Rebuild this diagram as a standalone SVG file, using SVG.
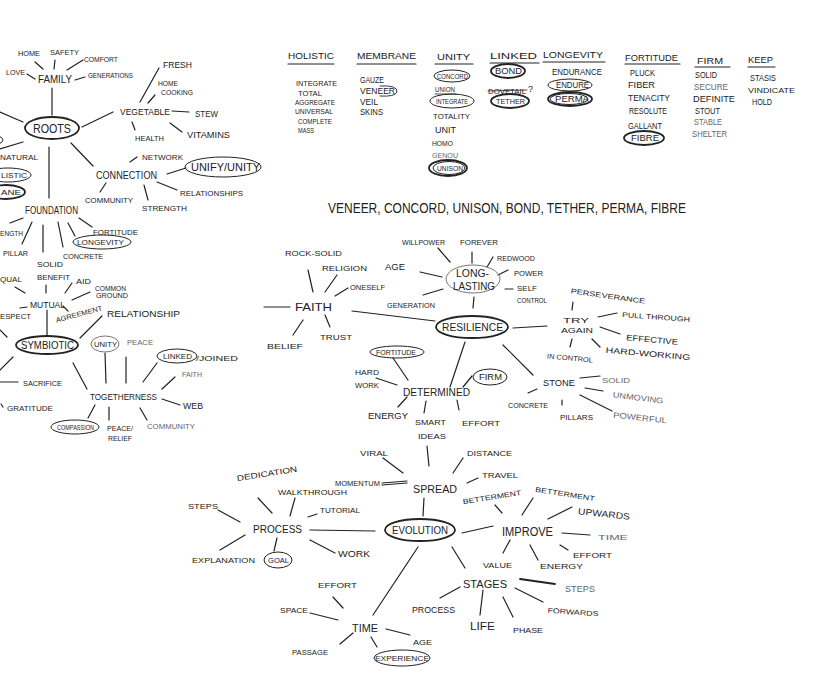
<svg xmlns="http://www.w3.org/2000/svg" width="835" height="698" viewBox="0 0 835 698">
<style>
text{font-family:"Liberation Sans","DejaVu Sans",Arial,sans-serif;fill:#222;dominant-baseline:central;font-size:8.5px;}
.s7{font-size:7px}.s8{font-size:8px}.s9{font-size:9px}.s10{font-size:10px}.s11{font-size:11px}.s12{font-size:12px}.s13{font-size:13px}.s14{font-size:14px}
.g{fill:#666}
.c line,.c path,line.u{stroke:#222;stroke-width:1.2;fill:none;stroke-linecap:round}
ellipse{fill:none;stroke:#222;stroke-width:1}
ellipse.k{stroke-width:1.8}
ellipse.f{stroke:#777}
</style>
<rect width="835" height="698" fill="#fff"/>

<!-- connectors -->
<g class="c" id="connectors">
<!-- left map -->
<line x1="35" y1="62" x2="43" y2="69"/><line x1="55" y1="60" x2="54" y2="69"/><line x1="67" y1="70" x2="83" y2="60"/>
<line x1="27" y1="74" x2="35" y2="79"/><line x1="75" y1="80" x2="85" y2="77"/><line x1="52" y1="88" x2="52" y2="115"/>
<line x1="0" y1="112" x2="23" y2="122"/><line x1="0" y1="149" x2="23" y2="142"/>
<line x1="82" y1="127" x2="113" y2="112"/><line x1="140" y1="102" x2="159" y2="68"/><line x1="148" y1="103" x2="155" y2="95"/>
<line x1="172" y1="111" x2="189" y2="112"/><line x1="170" y1="123" x2="182" y2="132"/><line x1="132" y1="122" x2="135" y2="130"/>
<line x1="71" y1="143" x2="93" y2="166"/><line x1="130" y1="162" x2="137" y2="157"/><line x1="167" y1="174" x2="186" y2="168"/>
<line x1="157" y1="182" x2="177" y2="190"/><line x1="144" y1="185" x2="148" y2="200"/><line x1="100" y1="192" x2="106" y2="183"/>
<line x1="49" y1="147" x2="49" y2="198"/>
<line x1="10" y1="223" x2="23" y2="218"/><line x1="22" y1="244" x2="32" y2="222"/><line x1="43" y1="225" x2="43" y2="252"/>
<line x1="58" y1="222" x2="63" y2="247"/><line x1="68" y1="223" x2="75" y2="236"/><line x1="79" y1="218" x2="92" y2="227"/>
<line x1="46" y1="285" x2="46" y2="293"/><line x1="65" y1="293" x2="72" y2="283"/><line x1="72" y1="300" x2="90" y2="292"/>
<line x1="15" y1="287" x2="25" y2="293"/><line x1="20" y1="308" x2="27" y2="307"/><line x1="63" y1="306" x2="68" y2="311"/>
<line x1="47" y1="310" x2="47" y2="335"/><line x1="80" y1="338" x2="102" y2="316"/>
<line x1="0" y1="330" x2="7" y2="337"/><line x1="0" y1="370" x2="13" y2="357"/><line x1="0" y1="382" x2="18" y2="382"/><line x1="1" y1="404" x2="3" y2="407"/>
<line x1="73" y1="363" x2="87" y2="389"/><line x1="105" y1="353" x2="106" y2="383"/><line x1="126" y1="357" x2="126" y2="383"/>
<line x1="143" y1="382" x2="157" y2="363"/><line x1="162" y1="389" x2="175" y2="377"/><line x1="162" y1="399" x2="180" y2="405"/>
<line x1="140" y1="408" x2="147" y2="420"/><line x1="109" y1="407" x2="109" y2="420"/><line x1="95" y1="405" x2="88" y2="418"/>
<!-- resilience map -->
<line x1="308" y1="270" x2="313" y2="292"/><line x1="337" y1="275" x2="325" y2="292"/><line x1="348" y1="288" x2="335" y2="296"/>
<line x1="264" y1="307" x2="290" y2="307"/><line x1="303" y1="320" x2="293" y2="335"/><line x1="325" y1="315" x2="330" y2="327"/>
<line x1="352" y1="311" x2="435" y2="321"/>
<line x1="438" y1="248" x2="450" y2="262"/><line x1="472" y1="252" x2="472" y2="263"/><line x1="493" y1="257" x2="487" y2="267"/>
<line x1="498" y1="275" x2="508" y2="270"/><line x1="505" y1="289" x2="513" y2="289"/><line x1="420" y1="272" x2="442" y2="277"/>
<line x1="423" y1="295" x2="443" y2="289"/><line x1="474" y1="297" x2="473" y2="308"/>
<line x1="465" y1="342" x2="450" y2="387"/><line x1="503" y1="345" x2="533" y2="375"/><line x1="513" y1="328" x2="547" y2="326"/>
<line x1="393" y1="358" x2="408" y2="380"/><line x1="376" y1="378" x2="397" y2="385"/><line x1="463" y1="387" x2="472" y2="376"/>
<line x1="398" y1="407" x2="407" y2="397"/><line x1="426" y1="401" x2="424" y2="413"/><line x1="457" y1="400" x2="459" y2="410"/>
<line x1="580" y1="378" x2="600" y2="376"/><line x1="585" y1="388" x2="603" y2="391"/><line x1="580" y1="395" x2="612" y2="411"/>
<line x1="528" y1="393" x2="537" y2="389"/><line x1="562" y1="400" x2="562" y2="405"/>
<line x1="573" y1="302" x2="572" y2="310"/><line x1="598" y1="317" x2="617" y2="313"/><line x1="600" y1="327" x2="620" y2="334"/>
<line x1="592" y1="339" x2="600" y2="347"/><line x1="572" y1="339" x2="570" y2="347"/>
<!-- evolution map -->
<line x1="427" y1="446" x2="429" y2="466"/><line x1="383" y1="458" x2="403" y2="473"/>
<line x1="382" y1="483" x2="407" y2="481"/><line x1="382" y1="485" x2="407" y2="483"/>
<line x1="463" y1="458" x2="453" y2="473"/><line x1="467" y1="483" x2="478" y2="478"/><line x1="424" y1="498" x2="423" y2="516"/>
<line x1="495" y1="505" x2="502" y2="513"/><line x1="533" y1="498" x2="522" y2="515"/><line x1="572" y1="507" x2="548" y2="519"/>
<line x1="462" y1="533" x2="493" y2="526"/><line x1="562" y1="533" x2="590" y2="535"/><line x1="560" y1="545" x2="568" y2="550"/>
<line x1="530" y1="545" x2="538" y2="560"/><line x1="510" y1="540" x2="503" y2="553"/>
<line x1="452" y1="547" x2="465" y2="568"/>
<line x1="520" y1="579" x2="555" y2="584" style="stroke-width:1.8"/><line x1="515" y1="588" x2="543" y2="602"/>
<line x1="503" y1="597" x2="513" y2="617"/><line x1="483" y1="590" x2="480" y2="615"/><line x1="440" y1="598" x2="460" y2="587"/>
<line x1="418" y1="547" x2="373" y2="615"/>
<line x1="333" y1="597" x2="343" y2="608"/><line x1="310" y1="613" x2="338" y2="620"/><line x1="386" y1="629" x2="410" y2="635"/>
<line x1="340" y1="644" x2="353" y2="633"/><line x1="371" y1="637" x2="377" y2="647"/>
<line x1="310" y1="530" x2="375" y2="531"/>
<line x1="258" y1="498" x2="272" y2="513"/><line x1="295" y1="498" x2="290" y2="516"/><line x1="308" y1="517" x2="317" y2="514"/>
<line x1="218" y1="510" x2="240" y2="522"/><line x1="220" y1="550" x2="245" y2="535"/><line x1="277" y1="538" x2="274" y2="551"/>
<line x1="310" y1="540" x2="335" y2="553"/>
<!-- underlines -->
<line x1="288" y1="64" x2="334" y2="64"/><line x1="357" y1="64" x2="416" y2="64"/><line x1="435" y1="64" x2="473" y2="64"/>
<line x1="490" y1="63" x2="539" y2="63"/><line x1="543" y1="62" x2="605" y2="62"/><line x1="625" y1="64" x2="680" y2="64"/>
<line x1="695" y1="67" x2="730" y2="67"/><line x1="748" y1="67" x2="775" y2="67"/><line x1="435" y1="94" x2="456" y2="94" style="stroke-width:0.8"/>
<line x1="488" y1="91" x2="527" y2="90" style="stroke-width:0.8"/>
<path d="M380 86 Q398 85 397 92 Q395 97 380 96" style="stroke-width:0.9"/>
</g>

<!-- left mind map -->
<g id="n-home"><text x="18" y="53" class="s8" textLength="22" lengthAdjust="spacingAndGlyphs">HOME</text></g>
<g id="n-safety"><text x="50" y="52" class="s8" textLength="29" lengthAdjust="spacingAndGlyphs">SAFETY</text></g>
<g id="n-comfort"><text x="84" y="59" class="s8" textLength="34" lengthAdjust="spacingAndGlyphs">COMFORT</text></g>
<g id="n-love"><text x="6" y="72" class="s8" textLength="19" lengthAdjust="spacingAndGlyphs">LOVE</text></g>
<g id="n-family"><text x="38" y="79" class="s10" textLength="34" lengthAdjust="spacingAndGlyphs">FAMILY</text></g>
<g id="n-generations"><text x="88" y="75" class="s7" textLength="45" lengthAdjust="spacingAndGlyphs">GENERATIONS</text></g>
<g id="n-roots"><ellipse class="k" cx="52" cy="128" rx="27" ry="11"/><text x="33" y="128" class="s13" textLength="38" lengthAdjust="spacingAndGlyphs">ROOTS</text></g>
<g id="n-partial1"><ellipse cx="-14" cy="140" rx="17" ry="6"/></g>
<g id="n-natural"><text x="0" y="157" class="s8" textLength="38" lengthAdjust="spacingAndGlyphs">NATURAL</text></g>
<g id="n-holistic"><ellipse cx="8" cy="175" rx="23" ry="7"/><text x="1" y="175" class="s7" textLength="26" lengthAdjust="spacingAndGlyphs">LISTIC</text></g>
<g id="n-membrane"><ellipse cx="6" cy="192" rx="19" ry="7" class="k"/><text x="1" y="192" class="s8" textLength="20" lengthAdjust="spacingAndGlyphs">ANE</text></g>
<g id="n-vegetable"><text x="120" y="112" class="s9" textLength="50" lengthAdjust="spacingAndGlyphs">VEGETABLE</text></g>
<g id="n-fresh"><text x="163" y="65" class="s9" textLength="29" lengthAdjust="spacingAndGlyphs">FRESH</text></g>
<g id="n-homecooking"><text x="158" y="83" class="s7" textLength="20" lengthAdjust="spacingAndGlyphs">HOME</text><text x="161" y="92" class="s7" textLength="32" lengthAdjust="spacingAndGlyphs">COOKING</text></g>
<g id="n-stew"><text x="195" y="114" class="s9" textLength="23" lengthAdjust="spacingAndGlyphs">STEW</text></g>
<g id="n-vitamins"><text x="187" y="135" class="s9" textLength="43" lengthAdjust="spacingAndGlyphs">VITAMINS</text></g>
<g id="n-health"><text x="135" y="138" class="s8" textLength="29" lengthAdjust="spacingAndGlyphs">HEALTH</text></g>
<g id="n-connection"><text x="96" y="175" class="s10" textLength="61" lengthAdjust="spacingAndGlyphs">CONNECTION</text></g>
<g id="n-network"><text x="142" y="157" class="s8" textLength="41" lengthAdjust="spacingAndGlyphs">NETWORK</text></g>
<g id="n-unifyunity"><ellipse cx="223" cy="167" rx="38" ry="10"/><text x="191" y="167" class="s10" textLength="69" lengthAdjust="spacingAndGlyphs">UNIFY/UNITY</text></g>
<g id="n-relationships"><text x="180" y="193" class="s8" textLength="63" lengthAdjust="spacingAndGlyphs">RELATIONSHIPS</text></g>
<g id="n-strength"><text x="142" y="208" class="s8" textLength="45" lengthAdjust="spacingAndGlyphs">STRENGTH</text></g>
<g id="n-community"><text x="85" y="200" class="s8" textLength="48" lengthAdjust="spacingAndGlyphs">COMMUNITY</text></g>
<g id="n-foundation"><text x="25" y="210" class="s10" textLength="53" lengthAdjust="spacingAndGlyphs">FOUNDATION</text></g>
<g id="n-strength2"><text x="0" y="233" class="s8" textLength="23" lengthAdjust="spacingAndGlyphs">ENGTH</text></g>
<g id="n-pillar"><text x="3" y="253" class="s8" textLength="25" lengthAdjust="spacingAndGlyphs">PILLAR</text></g>
<g id="n-solid"><text x="37" y="264" class="s8" textLength="26" lengthAdjust="spacingAndGlyphs">SOLID</text></g>
<g id="n-concrete"><text x="63" y="256" class="s8" textLength="40" lengthAdjust="spacingAndGlyphs">CONCRETE</text></g>
<g id="n-longevity"><ellipse cx="102" cy="242" rx="29" ry="7"/><text x="77" y="242" class="s7" textLength="47" lengthAdjust="spacingAndGlyphs">LONGEVITY</text></g>
<g id="n-fortitude"><text x="93" y="232" class="s8" textLength="45" lengthAdjust="spacingAndGlyphs">FORTITUDE</text></g>
<g id="n-mutual"><text x="30" y="305" class="s9" textLength="35" lengthAdjust="spacingAndGlyphs">MUTUAL</text></g>
<g id="n-benefit"><text x="37" y="277" class="s8" textLength="33" lengthAdjust="spacingAndGlyphs">BENEFIT</text></g>
<g id="n-aid"><text x="76" y="281" class="s8" textLength="15" lengthAdjust="spacingAndGlyphs">AID</text></g>
<g id="n-commonground"><text x="95" y="288" class="s7" textLength="31" lengthAdjust="spacingAndGlyphs">COMMON</text><text x="96" y="295" class="s7" textLength="32" lengthAdjust="spacingAndGlyphs">GROUND</text></g>
<g id="n-equal"><text x="0" y="279" class="s8" textLength="22" lengthAdjust="spacingAndGlyphs">QUAL</text></g>
<g id="n-respect"><text x="0" y="316" class="s8" textLength="31" lengthAdjust="spacingAndGlyphs">ESPECT</text></g>
<g id="n-agreement"><text x="79" y="314" class="s7" text-anchor="middle" transform="rotate(-15 79 314)" textLength="48" lengthAdjust="spacingAndGlyphs">AGREEMENT</text></g>
<g id="n-relationship"><text x="107" y="314" class="s9" textLength="73" lengthAdjust="spacingAndGlyphs">RELATIONSHIP</text></g>
<g id="n-symbiotic"><ellipse class="k" cx="47" cy="345" rx="31" ry="9"/><text x="21" y="345" class="s10" textLength="53" lengthAdjust="spacingAndGlyphs">SYMBIOTIC</text></g>
<g id="n-sacrifice"><text x="23" y="383" class="s8" textLength="39" lengthAdjust="spacingAndGlyphs">SACRIFICE</text></g>
<g id="n-gratitude"><text x="7" y="408" class="s7" textLength="46" lengthAdjust="spacingAndGlyphs">GRATITUDE</text></g>
<g id="n-togetherness"><text x="90" y="397" class="s9" textLength="67" lengthAdjust="spacingAndGlyphs">TOGETHERNESS</text></g>
<g id="n-unity2"><ellipse class="f" cx="105" cy="344" rx="14" ry="8"/><text x="94" y="344" class="s7" textLength="23" lengthAdjust="spacingAndGlyphs">UNITY</text></g>
<g id="n-peace"><text x="127" y="342" class="s8 g" textLength="26" lengthAdjust="spacingAndGlyphs">PEACE</text></g>
<g id="n-linked"><ellipse cx="177" cy="356" rx="20" ry="7"/><text x="163" y="356" class="s7" textLength="29" lengthAdjust="spacingAndGlyphs">LINKED</text><text x="196" y="358" class="s7" textLength="42" lengthAdjust="spacingAndGlyphs">/JOINED</text></g>
<g id="n-faith1"><text x="182" y="374" class="s8 g" textLength="20" lengthAdjust="spacingAndGlyphs">FAITH</text></g>
<g id="n-web"><text x="183" y="406" class="s9" textLength="20" lengthAdjust="spacingAndGlyphs">WEB</text></g>
<g id="n-community2"><text x="147" y="426" class="s7 g" textLength="48" lengthAdjust="spacingAndGlyphs">COMMUNITY</text></g>
<g id="n-peacerelief"><text x="107" y="428" class="s7" textLength="26" lengthAdjust="spacingAndGlyphs">PEACE/</text><text x="108" y="438" class="s7" textLength="24" lengthAdjust="spacingAndGlyphs">RELIEF</text></g>
<g id="n-compassion"><ellipse cx="75" cy="427" rx="24" ry="7"/><text x="57" y="427" class="s7" textLength="37" lengthAdjust="spacingAndGlyphs">COMPASSION</text></g>

<!-- word lists -->
<g id="n-list-holistic"><text x="288" y="56" class="s9" textLength="46" lengthAdjust="spacingAndGlyphs">HOLISTIC</text>
<text x="296" y="83" class="s8" textLength="41" lengthAdjust="spacingAndGlyphs">INTEGRATE</text>
<text x="298" y="93" class="s8" textLength="24" lengthAdjust="spacingAndGlyphs">TOTAL</text>
<text x="295" y="102" class="s8" textLength="40" lengthAdjust="spacingAndGlyphs">AGGREGATE</text>
<text x="295" y="111.5" class="s8" textLength="38" lengthAdjust="spacingAndGlyphs">UNIVERSAL</text>
<text x="298" y="121" class="s8" textLength="34" lengthAdjust="spacingAndGlyphs">COMPLETE</text>
<text x="298" y="130.5" class="s8" textLength="16" lengthAdjust="spacingAndGlyphs">MASS</text></g>
<g id="n-list-membrane"><text x="357" y="56" class="s9" textLength="59" lengthAdjust="spacingAndGlyphs">MEMBRANE</text>
<text x="360" y="80" class="s9" textLength="24" lengthAdjust="spacingAndGlyphs">GAUZE</text>
<text x="360" y="91" class="s9" textLength="35" lengthAdjust="spacingAndGlyphs">VENEER</text>
<text x="360" y="101.5" class="s9" textLength="18" lengthAdjust="spacingAndGlyphs">VEIL</text>
<text x="360" y="112" class="s9" textLength="23" lengthAdjust="spacingAndGlyphs">SKINS</text></g>
<g id="n-list-unity"><text x="437" y="57" class="s9" textLength="33" lengthAdjust="spacingAndGlyphs">UNITY</text>
<ellipse cx="452" cy="76" rx="18" ry="6"/><text x="437" y="76" class="s7" textLength="31" lengthAdjust="spacingAndGlyphs">CONCORD</text>
<text x="435" y="89" class="s8" textLength="20" lengthAdjust="spacingAndGlyphs">UNION</text>
<ellipse cx="452" cy="101" rx="22" ry="7"/><text x="436" y="101" class="s7" textLength="32" lengthAdjust="spacingAndGlyphs">INTEGRATE</text>
<text x="433" y="116" class="s8" textLength="37" lengthAdjust="spacingAndGlyphs">TOTALITY</text>
<text x="435" y="130" class="s9" textLength="21" lengthAdjust="spacingAndGlyphs">UNIT</text>
<text x="432" y="143" class="s7" textLength="21" lengthAdjust="spacingAndGlyphs">HOMO</text>
<text x="432" y="155" class="s7 g" textLength="26" lengthAdjust="spacingAndGlyphs">GENOU</text>
<ellipse class="k" cx="448" cy="168" rx="19" ry="8"/><ellipse cx="449" cy="168" rx="16" ry="6.5"/><text x="437" y="168" class="s8" textLength="26" lengthAdjust="spacingAndGlyphs">UNISON</text></g>
<g id="n-list-linked"><text x="490" y="56" class="s9" textLength="47" lengthAdjust="spacingAndGlyphs">LINKED</text>
<ellipse class="k" cx="508" cy="71" rx="17" ry="7"/><text x="495" y="71" class="s9" textLength="27" lengthAdjust="spacingAndGlyphs">BOND</text>
<text x="488" y="91" class="s7" textLength="38" lengthAdjust="spacingAndGlyphs">DOVETAIL</text><text x="528" y="89" class="s9">?</text>
<ellipse class="k" cx="510" cy="101" rx="19" ry="7"/><text x="496" y="101" class="s8" textLength="29" lengthAdjust="spacingAndGlyphs">TETHER</text></g>
<g id="n-list-longevity"><text x="543" y="55" class="s9" textLength="60" lengthAdjust="spacingAndGlyphs">LONGEVITY</text>
<text x="552" y="72" textLength="50" lengthAdjust="spacingAndGlyphs">ENDURANCE</text>
<ellipse cx="570" cy="85" rx="22" ry="6"/><text x="556" y="85" class="s9" textLength="33" lengthAdjust="spacingAndGlyphs">ENDURE</text>
<ellipse class="k" cx="570" cy="99" rx="22" ry="7"/><ellipse cx="569" cy="99" rx="19" ry="5.5"/><text x="555" y="99" class="s9" textLength="34" lengthAdjust="spacingAndGlyphs">PERMA</text></g>
<g id="n-list-fortitude"><text x="625" y="58" class="s9" textLength="53" lengthAdjust="spacingAndGlyphs">FORTITUDE</text>
<text x="630" y="73" class="s9" textLength="25" lengthAdjust="spacingAndGlyphs">PLUCK</text>
<text x="628" y="85" class="s9" textLength="27" lengthAdjust="spacingAndGlyphs">FIBER</text>
<text x="628" y="98" textLength="42" lengthAdjust="spacingAndGlyphs">TENACITY</text>
<text x="629" y="111" textLength="38" lengthAdjust="spacingAndGlyphs">RESOLUTE</text>
<text x="628" y="126" class="s9" textLength="34" lengthAdjust="spacingAndGlyphs">GALLANT</text>
<ellipse class="k" cx="644" cy="138" rx="20" ry="7"/><text x="631" y="138" class="s9" textLength="28" lengthAdjust="spacingAndGlyphs">FIBRE</text></g>
<g id="n-list-firm"><text x="697" y="61" class="s9" textLength="26" lengthAdjust="spacingAndGlyphs">FIRM</text>
<text x="695" y="75" textLength="22" lengthAdjust="spacingAndGlyphs">SOLID</text>
<text x="694" y="87" class="g" textLength="34" lengthAdjust="spacingAndGlyphs">SECURE</text>
<text x="693" y="99" textLength="42" lengthAdjust="spacingAndGlyphs">DEFINITE</text>
<text x="695" y="111" textLength="25" lengthAdjust="spacingAndGlyphs">STOUT</text>
<text x="694" y="121.5" class="g" textLength="28" lengthAdjust="spacingAndGlyphs">STABLE</text>
<text x="692" y="134" class="g" textLength="35" lengthAdjust="spacingAndGlyphs">SHELTER</text></g>
<g id="n-list-keep"><text x="748" y="60" class="s9" textLength="25" lengthAdjust="spacingAndGlyphs">KEEP</text>
<text x="750" y="78" textLength="26" lengthAdjust="spacingAndGlyphs">STASIS</text>
<text x="748" y="90" class="s7" textLength="47" lengthAdjust="spacingAndGlyphs">VINDICATE</text>
<text x="752" y="102" textLength="20" lengthAdjust="spacingAndGlyphs">HOLD</text></g>

<g id="n-subtitle"><text x="328" y="208" class="s14" textLength="358" lengthAdjust="spacingAndGlyphs">VENEER, CONCORD, UNISON, BOND, TETHER, PERMA, FIBRE</text></g>

<!-- resilience map -->
<g id="n-rocksolid"><text x="285" y="253" class="s8" textLength="57" lengthAdjust="spacingAndGlyphs">ROCK-SOLID</text></g>
<g id="n-religion"><text x="322" y="268" class="s8" textLength="45" lengthAdjust="spacingAndGlyphs">RELIGION</text></g>
<g id="n-age1"><text x="385" y="267" class="s9" textLength="20" lengthAdjust="spacingAndGlyphs">AGE</text></g>
<g id="n-oneself"><text x="350" y="287" class="s7" textLength="35" lengthAdjust="spacingAndGlyphs">ONESELF</text></g>
<g id="n-faith"><text x="295" y="307" class="s11" textLength="37" lengthAdjust="spacingAndGlyphs">FAITH</text></g>
<g id="n-belief"><text x="267" y="346" class="s8" textLength="36" lengthAdjust="spacingAndGlyphs">BELIEF</text></g>
<g id="n-trust"><text x="320" y="337" class="s8" textLength="32" lengthAdjust="spacingAndGlyphs">TRUST</text></g>
<g id="n-resilience"><ellipse class="k" cx="472" cy="327" rx="36" ry="11"/><text x="442" y="327" class="s10" textLength="61" lengthAdjust="spacingAndGlyphs">RESILIENCE</text></g>
<g id="n-longlasting"><ellipse class="f" cx="473" cy="279" rx="27" ry="14"/><text x="456" y="273" class="s10" textLength="33" lengthAdjust="spacingAndGlyphs">LONG-</text><text x="453" y="286" class="s10" textLength="42" lengthAdjust="spacingAndGlyphs">LASTING</text></g>
<g id="n-willpower"><text x="402" y="242" class="s7" textLength="43" lengthAdjust="spacingAndGlyphs">WILLPOWER</text></g>
<g id="n-forever"><text x="460" y="242" class="s7" textLength="38" lengthAdjust="spacingAndGlyphs">FOREVER</text></g>
<g id="n-redwood"><text x="497" y="258" class="s7" textLength="38" lengthAdjust="spacingAndGlyphs">REDWOOD</text></g>
<g id="n-power"><text x="514" y="273" class="s7" textLength="29" lengthAdjust="spacingAndGlyphs">POWER</text></g>
<g id="n-selfcontrol"><text x="517" y="288" class="s7" textLength="20" lengthAdjust="spacingAndGlyphs">SELF</text><text x="517" y="300" class="s7" textLength="30" lengthAdjust="spacingAndGlyphs">CONTROL</text></g>
<g id="n-generation"><text x="387" y="305" class="s7" textLength="48" lengthAdjust="spacingAndGlyphs">GENERATION</text></g>
<g id="n-fortitude2"><ellipse cx="397" cy="352" rx="27" ry="6"/><text x="376" y="352" class="s7" textLength="40" lengthAdjust="spacingAndGlyphs">FORTITUDE</text></g>
<g id="n-hardwork"><text x="355" y="372" class="s8" textLength="24" lengthAdjust="spacingAndGlyphs">HARD</text><text x="355" y="385" class="s8" textLength="24" lengthAdjust="spacingAndGlyphs">WORK</text></g>
<g id="n-determined"><text x="403" y="392" class="s10" textLength="67" lengthAdjust="spacingAndGlyphs">DETERMINED</text></g>
<g id="n-firm"><ellipse cx="490" cy="377" rx="17" ry="8"/><text x="479" y="377" class="s9" textLength="23" lengthAdjust="spacingAndGlyphs">FIRM</text></g>
<g id="n-energy1"><text x="368" y="416" class="s9" textLength="40" lengthAdjust="spacingAndGlyphs">ENERGY</text></g>
<g id="n-smartideas"><text x="415" y="422" class="s7" textLength="31" lengthAdjust="spacingAndGlyphs">SMART</text><text x="418" y="436" class="s8" textLength="28" lengthAdjust="spacingAndGlyphs">IDEAS</text></g>
<g id="n-effort1"><text x="462" y="423" class="s8" textLength="38" lengthAdjust="spacingAndGlyphs">EFFORT</text></g>
<g id="n-stone"><text x="543" y="383" class="s9" textLength="32" lengthAdjust="spacingAndGlyphs">STONE</text></g>
<g id="n-solid2"><text x="602" y="380" class="s8 g" textLength="28" lengthAdjust="spacingAndGlyphs">SOLID</text></g>
<g id="n-unmoving"><text x="638" y="398" class="s8 g" text-anchor="middle" transform="rotate(7 638 398)" textLength="51" lengthAdjust="spacingAndGlyphs">UNMOVING</text></g>
<g id="n-powerful"><text x="640" y="418" class="s8 g" text-anchor="middle" transform="rotate(6 640 418)" textLength="54" lengthAdjust="spacingAndGlyphs">POWERFUL</text></g>
<g id="n-concrete2"><text x="508" y="405" class="s7" textLength="40" lengthAdjust="spacingAndGlyphs">CONCRETE</text></g>
<g id="n-pillars"><text x="560" y="417" class="s7" textLength="33" lengthAdjust="spacingAndGlyphs">PILLARS</text></g>
<g id="n-tryagain"><text x="563" y="320" class="s8" textLength="26" lengthAdjust="spacingAndGlyphs">TRY</text><text x="561" y="330" class="s8" textLength="32" lengthAdjust="spacingAndGlyphs">AGAIN</text></g>
<g id="n-perseverance"><text x="608" y="296" class="s7" text-anchor="middle" transform="rotate(8 608 296)" textLength="75" lengthAdjust="spacingAndGlyphs">PERSEVERANCE</text></g>
<g id="n-pullthrough"><text x="656" y="317" class="s7" text-anchor="middle" transform="rotate(4 656 317)" textLength="68" lengthAdjust="spacingAndGlyphs">PULL THROUGH</text></g>
<g id="n-effective"><text x="652" y="340" class="s8" text-anchor="middle" transform="rotate(5 652 340)" textLength="52" lengthAdjust="spacingAndGlyphs">EFFECTIVE</text></g>
<g id="n-hardworking"><text x="648" y="354" class="s8" text-anchor="middle" transform="rotate(5 648 354)" textLength="85" lengthAdjust="spacingAndGlyphs">HARD-WORKING</text></g>
<g id="n-incontrol"><text x="570" y="358" class="s7" text-anchor="middle" transform="rotate(5 570 358)" textLength="46" lengthAdjust="spacingAndGlyphs">IN CONTROL</text></g>

<!-- evolution map -->
<g id="n-viral"><text x="360" y="453" class="s7" textLength="28" lengthAdjust="spacingAndGlyphs">VIRAL</text></g>
<g id="n-momentum"><text x="335" y="483" class="s7" textLength="45" lengthAdjust="spacingAndGlyphs">MOMENTUM</text></g>
<g id="n-spread"><text x="413" y="489" class="s10" textLength="44" lengthAdjust="spacingAndGlyphs">SPREAD</text></g>
<g id="n-distance"><text x="467" y="453" class="s8" textLength="45" lengthAdjust="spacingAndGlyphs">DISTANCE</text></g>
<g id="n-travel"><text x="482" y="475" class="s8" textLength="36" lengthAdjust="spacingAndGlyphs">TRAVEL</text></g>
<g id="n-betterment1"><text x="492" y="497" class="s7" text-anchor="middle" transform="rotate(-9 492 497)" textLength="59" lengthAdjust="spacingAndGlyphs">BETTERMENT</text></g>
<g id="n-betterment2"><text x="565" y="494" class="s7" text-anchor="middle" transform="rotate(9 565 494)" textLength="60" lengthAdjust="spacingAndGlyphs">BETTERMENT</text></g>
<g id="n-upwards"><text x="604" y="514" class="s9" text-anchor="middle" transform="rotate(6 604 514)" textLength="52" lengthAdjust="spacingAndGlyphs">UPWARDS</text></g>
<g id="n-improve"><text x="502" y="532" class="s12" textLength="51" lengthAdjust="spacingAndGlyphs">IMPROVE</text></g>
<g id="n-evolution"><ellipse class="k" cx="420" cy="530" rx="35" ry="11"/><text x="392" y="530" class="s11" textLength="56" lengthAdjust="spacingAndGlyphs">EVOLUTION</text></g>
<g id="n-time1"><text x="598" y="537" class="s8 g" textLength="30" lengthAdjust="spacingAndGlyphs">TIME</text></g>
<g id="n-effort2"><text x="573" y="555" class="s8" textLength="39" lengthAdjust="spacingAndGlyphs">EFFORT</text></g>
<g id="n-energy2"><text x="540" y="566" class="s8" textLength="43" lengthAdjust="spacingAndGlyphs">ENERGY</text></g>
<g id="n-value"><text x="483" y="565" class="s7" textLength="29" lengthAdjust="spacingAndGlyphs">VALUE</text></g>
<g id="n-stages"><text x="463" y="584" class="s11" textLength="44" lengthAdjust="spacingAndGlyphs">STAGES</text></g>
<g id="n-steps1"><text x="565" y="589" class="s9 g" textLength="30" lengthAdjust="spacingAndGlyphs">STEPS</text></g>
<g id="n-forwards"><text x="573" y="612" class="s7" text-anchor="middle" transform="rotate(4 573 612)" textLength="51" lengthAdjust="spacingAndGlyphs">FORWARDS</text></g>
<g id="n-phase"><text x="513" y="630" class="s8" textLength="30" lengthAdjust="spacingAndGlyphs">PHASE</text></g>
<g id="n-life"><text x="470" y="626" class="s10" textLength="25" lengthAdjust="spacingAndGlyphs">LIFE</text></g>
<g id="n-process2"><text x="412" y="610" class="s9" textLength="43" lengthAdjust="spacingAndGlyphs">PROCESS</text></g>
<g id="n-time2"><text x="352" y="628" class="s10" textLength="26" lengthAdjust="spacingAndGlyphs">TIME</text></g>
<g id="n-effort3"><text x="318" y="585" class="s8" textLength="39" lengthAdjust="spacingAndGlyphs">EFFORT</text></g>
<g id="n-space"><text x="280" y="610" class="s8" textLength="28" lengthAdjust="spacingAndGlyphs">SPACE</text></g>
<g id="n-age2"><text x="413" y="642" class="s8" textLength="19" lengthAdjust="spacingAndGlyphs">AGE</text></g>
<g id="n-passage"><text x="292" y="652" class="s7" textLength="36" lengthAdjust="spacingAndGlyphs">PASSAGE</text></g>
<g id="n-experience"><ellipse cx="402" cy="658" rx="28" ry="8"/><text x="375" y="658" class="s8" textLength="54" lengthAdjust="spacingAndGlyphs">EXPERIENCE</text></g>
<g id="n-process1"><text x="253" y="529" class="s11" textLength="49" lengthAdjust="spacingAndGlyphs">PROCESS</text></g>
<g id="n-dedication"><text x="267" y="474" class="s8" text-anchor="middle" transform="rotate(-9 267 474)" textLength="61" lengthAdjust="spacingAndGlyphs">DEDICATION</text></g>
<g id="n-walkthrough"><text x="278" y="492" class="s7" textLength="69" lengthAdjust="spacingAndGlyphs">WALKTHROUGH</text></g>
<g id="n-tutorial"><text x="320" y="510" class="s7" textLength="40" lengthAdjust="spacingAndGlyphs">TUTORIAL</text></g>
<g id="n-steps2"><text x="188" y="506" class="s8" textLength="30" lengthAdjust="spacingAndGlyphs">STEPS</text></g>
<g id="n-explanation"><text x="192" y="560" class="s7" textLength="63" lengthAdjust="spacingAndGlyphs">EXPLANATION</text></g>
<g id="n-goal"><ellipse cx="278" cy="560" rx="14" ry="8"/><text x="268" y="560" class="s8" textLength="21" lengthAdjust="spacingAndGlyphs">GOAL</text></g>
<g id="n-work"><text x="338" y="554" class="s9" textLength="32" lengthAdjust="spacingAndGlyphs">WORK</text></g>
</svg>
